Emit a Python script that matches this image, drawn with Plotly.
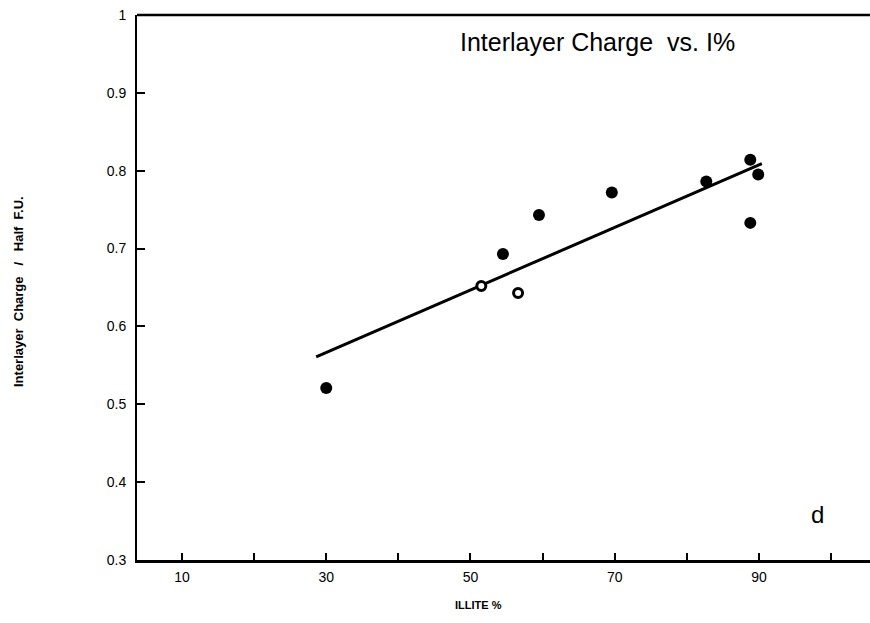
import plotly.graph_objects as go

# Filled data points (Illite %, interlayer charge / half F.U.)
filled_x = [30.0, 54.5, 59.5, 69.6, 82.7, 88.8, 89.9, 88.8]
filled_y = [0.521, 0.693, 0.743, 0.772, 0.786, 0.814, 0.795, 0.733]

# Open (hollow) data points
open_x = [51.5, 56.6]
open_y = [0.652, 0.643]

# Regression line end points
fit_x = [28.6, 90.4]
fit_y = [0.561, 0.809]

x_tickvals = [10, 20, 30, 40, 50, 60, 70, 80, 90, 100]
x_ticktext = ["10", "", "30", "", "50", "", "70", "", "90", ""]
y_tickvals = [0.3, 0.4, 0.5, 0.6, 0.7, 0.8, 0.9, 1.0]
y_ticktext = ["0.3", "0.4", "0.5", "0.6", "0.7", "0.8", "0.9", "1"]

fig = go.Figure()
fig.add_trace(go.Scatter(x=fit_x, y=fit_y, mode="lines",
                         line=dict(color="black", width=3), showlegend=False))
fig.add_trace(go.Scatter(x=filled_x, y=filled_y, mode="markers",
                         marker=dict(color="black", size=12), showlegend=False))
fig.add_trace(go.Scatter(x=open_x, y=open_y, mode="markers",
                         marker=dict(color="white", size=9,
                                     line=dict(color="black", width=3)),
                         showlegend=False))

font = "Liberation Sans, Arial, sans-serif"
fig.update_layout(
    width=870, height=623,
    margin=dict(l=137, r=0, t=15, b=63),
    paper_bgcolor="white", plot_bgcolor="white",
    font=dict(family=font, color="black"),
    xaxis=dict(range=[3.76, 105.4], tickvals=x_tickvals, ticktext=x_ticktext,
               ticks="inside", ticklen=7, tickwidth=1.5, tickcolor="black",
               showline=True, linecolor="black", linewidth=2.5, mirror=False,
               showgrid=False, zeroline=False,
               tickfont=dict(size=14, family=font), ticklabelstandoff=2),
    yaxis=dict(range=[0.3, 1.0], tickvals=y_tickvals, ticktext=y_ticktext,
               ticks="inside", ticklen=8, tickwidth=1.5, tickcolor="black",
               showline=True, linecolor="black", linewidth=2, mirror=False,
               showgrid=False, zeroline=False,
               tickfont=dict(size=14, family=font), ticklabelstandoff=6),
    shapes=[dict(type="line", xref="paper", yref="paper", x0=0, x1=1, y0=1, y1=1,
                 line=dict(color="black", width=2.5))],
    annotations=[
        dict(text="Interlayer Charge  vs. I%", xref="paper", yref="paper",
             x=(597 - 137) / 733, y=1 - (42 - 15) / 545, showarrow=False,
             font=dict(size=25, family=font), xanchor="center", yanchor="middle"),
        dict(text="d", xref="paper", yref="paper",
             x=(817 - 137) / 733, y=1 - (514 - 15) / 545, showarrow=False,
             font=dict(size=24, family=font), xanchor="center", yanchor="middle"),
        dict(text="<b>ILLITE %</b>", xref="paper", yref="paper",
             x=(478 - 137) / 733, y=1 - (605 - 15) / 545, showarrow=False,
             font=dict(size=11, family=font), xanchor="center", yanchor="middle"),
        dict(text="<b>Interlayer  Charge   /   Half  F.U.</b>", xref="paper", yref="paper",
             x=(18 - 137) / 733, y=1 - (292 - 15) / 545, showarrow=False, textangle=-90,
             font=dict(size=13, family=font), xanchor="center", yanchor="middle"),
    ],
)

fig.write_html("out.html")
